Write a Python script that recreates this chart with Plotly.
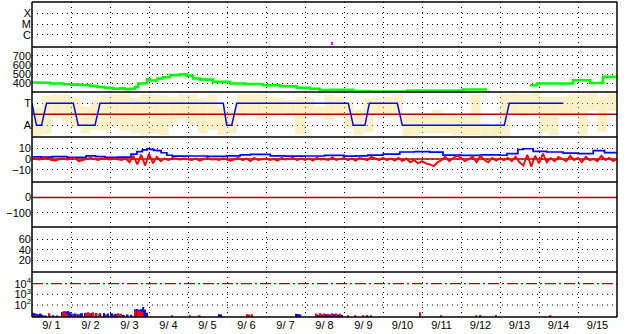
import plotly.graph_objects as go

# ---------------- data ----------------
DAY0, DAY1 = 1.0, 16.0           # 9/1 00:00 .. 9/16 00:00 (day of September)
date_label_pos = [1.5, 2.5, 3.5, 4.5, 5.5, 6.5, 7.5, 8.5, 9.5, 10.5, 11.5, 12.5, 13.5, 14.5, 15.5]
date_labels = ["9/ 1", "9/ 2", "9/ 3", "9/ 4", "9/ 5", "9/ 6", "9/ 7", "9/ 8",
               "9/ 9", "9/10", "9/11", "9/12", "9/13", "9/14", "9/15"]
day_bounds = [2, 3, 4, 5, 6, 7, 8, 9, 10, 11, 12, 13, 14, 15]

# panel 1: X-ray class (C=1, M=2, X=3)
xray_day = [8.69]
xray_lo = [0.05]
xray_hi = [0.35]

# panel 2: solar wind speed (km/s)
v_day = [1.0, 1.2, 1.46, 1.8, 2.03, 2.23, 2.49, 2.67, 2.87, 3.08, 3.26, 3.38, 3.51, 3.64,
         3.72, 3.85, 3.95, 4.03, 4.21, 4.36, 4.54, 4.79, 4.97, 5.13, 5.31, 5.64, 6.08,
         6.46, 6.92, 7.36, 7.79, 8.13, 8.38, 8.64, 8.82, 9.23, 9.67, 10.36, 10.62, 10.95,
         11.79, 12.05, 12.67, 12.74, 13.77, 13.95, 14.72, 14.87, 15.23, 15.31, 15.56,
         15.64, 16.0]
v_val = [408, 405, 397, 389, 385, 381, 370, 359, 350, 341, 345, 335, 341, 360,
         397, 400, 444, 430, 452, 465, 489, 497, 481, 452, 440, 415, 397,
         392, 378, 368, 352, 340, 327, 330, 330, 315, 310, 310, 322, 322,
         322, 333, 333, None, 378, 397, 397, 433, 433, 403, 403,
         470, 470]

# panel 3: IMF phi scatter range per 6-hour bin (T=+1, A=-1) and sector polarity
phi_bin_day = [1.125 + 0.25 * i for i in range(60)]
phi_lo = [-2.0, -1.8, -0.3, -0.6, -1.2, -1.7, -1.4, -1.5, -1.0, -1.5,
          -1.7, -1.9, -1.7, -1.9, -0.8, -0.5, -0.8, -1.7, -1.4, -1.9,
          -1.7, -0.2, 0.0, -0.5, -0.2, 0.1, -0.2, -1.8, -0.2, -0.2,
          -0.5, -0.2, -1.3, -1.9, -1.6, 0.1, -0.2, -0.2, -2.0, -1.9,
          -1.7, -1.7, -1.7, -1.9, -1.9, -1.9, -2.0, -2.0, -2.0, 0.1,
          -0.2, 0.1, -1.6, -1.9, -0.2, -0.2, -1.9, 0.3, -1.6, 0.3]
phi_hi = [0.6, 1.7, 1.8, 1.8, 1.5, 0.7, 1.3, 1.8, 1.8, 1.8,
          1.5, 1.8, 1.8, 1.7, 1.6, 1.8, 1.8, 1.5, 1.8, 0.7,
          0.4, 1.8, 1.8, 1.8, 1.6, 1.5, 1.3, 1.6, 1.5, 0.7,
          1.8, 1.6, 1.0, 0.4, 1.5, 1.5, 1.6, 1.8, -0.2, 0.1,
          0.1, 0.4, 0.1, 0.1, -0.2, 1.8, -0.8, -1.0, 1.8, 1.9,
          1.8, 1.9, 1.6, 1.6, 1.6, 1.8, 1.8, 1.9, 1.6, 1.9]
sector_day = [1.0, 1.115, 1.244, 1.372, 2.059, 2.187, 2.615, 2.744, 5.905, 5.992, 6.121,
              6.249, 9.110, 9.238, 9.538, 9.649, 10.367, 10.495, 13.110, 13.238, 14.623]
sector_val = [1, -1, -1, 1, 1, -1, -1, 1, 1, -1, -1,
              1, 1, -1, -1, 1, 1, -1, -1, 1, 1]

# panel 4: IMF Bt (blue) and Bz (red), nT
bt_day = [1.0, 1.23, 1.52, 1.90, 2.39, 2.63, 2.87, 3.2, 3.54, 3.69, 3.83, 3.95, 4.02, 4.12,
          4.22, 4.31, 4.46, 4.60, 5.0, 5.5, 6.0, 6.34, 6.6, 7.11, 7.5, 8.0, 8.5, 9.0, 9.3,
          9.61, 10.0, 10.43, 10.8, 11.2, 11.54, 12.0, 12.5, 13.0, 13.18, 13.46, 13.6, 13.85,
          14.2, 14.62, 15.0, 15.39, 15.68, 16.0]
bt_val = [2.0, 1.8, 2.2, 1.5, 3.0, 2.2, 1.5, 1.8, 4.5, 6.8, 8.4, 9.5, 9.0, 8.0,
          7.7, 5.8, 3.5, 2.6, 2.8, 2.5, 3.0, 3.8, 4.3, 3.0, 2.6, 2.8, 3.3, 2.6, 3.0,
          3.6, 4.5, 6.5, 6.8, 6.3, 3.6, 3.4, 3.8, 3.5, 5.0, 8.8, 9.5, 7.0,
          6.5, 5.4, 5.0, 7.7, 6.0, 6.2]
bz_start, bz_step = 1.0, 0.1
bz_val = [0.5, 0, -0.5, 1, 0.5, -1, -1.5, 0, 0.5, -0.5,
          0, 1, -2, -1, 0.5, 1, 0, -1, 0.5, 0,
          -0.5, 0.5, 0, -1, 0.5, -3, 3, -5, 4, -6,
          5, -4, 2, -2, 0.5, -1, 1, 0, -0.5, 0.5,
          0, -1, 0.5, -1.5, 0, 1, -0.5, 0, -1, 0.5,
          -0.5, -1.5, 0, 1, -1, 0.5, -2, 1, -1, 0,
          0.5, -1, 0, -1.5, 1, -0.5, 0, 1, -1, 0.5,
          -1, 0.5, -1.5, 1, -0.5, 0, -1, 1.5, -1, 0,
          1, -1, 0.5, -1.5, 1, 0, -1, 2, 0.5, -1,
          1, -1, 0.5, -1.5, 1, -2, 0.5, -3, -1, -4,
          -2, -4, -5, -6.5, -3, -1, 2, -2, 1, 3,
          1, -2, 0, 2, -3, 3, -1, -3, 1, -1.5,
          0.5, -1, 1, -2, 2, -3, -6, 4, -7, 3,
          -4, 5, -3, 1, -2, 2, 0, -2, 3, -1,
          1, -3, 2, -1, 0, -2, 3, -1, 1, -2,
          0]
bz_day = [bz_start + bz_step * i for i in range(len(bz_val))]

# panel 7: particle flux (blue, red)
p_blue_day = [1.02, 1.07, 1.12, 1.17, 1.22, 1.27, 1.35, 1.45, 1.55, 1.65, 1.78, 1.83, 1.88,
              1.93, 1.98, 2.05, 2.12, 2.2, 2.28, 2.36, 2.45, 2.55, 2.65, 2.75, 2.85, 2.95,
              3.05, 3.15, 3.25, 3.35, 3.45, 3.55, 3.65, 3.7, 3.75, 3.8, 3.85, 3.9, 3.95,
              5.8, 5.85, 7.78, 7.83, 7.88, 8.35, 8.45, 8.55, 8.65, 8.75, 8.85, 8.95, 9.6,
              12.5, 12.9]
p_blue_val = [18, 16, 14, 12, 15, 11, 9.5, 9.5, 10, 9.5, 22, 25, 24,
              26, 20, 14, 15, 13, 16, 17, 16, 18, 17, 16, 17, 15,
              16, 14, 12, 11, 12, 11, 38, 42, 35, 40, 63, 36, 18,
              13, 12, 14, 13, 12, 11, 12, 13, 12, 13, 12, 11, 10,
              10, 10]
p_red_day = [1.1, 1.45, 1.8, 1.85, 1.9, 2.05, 2.2, 2.38, 2.45, 2.5, 2.58, 2.65, 2.72, 2.9,
             3.1, 3.22, 3.28, 3.66, 3.72, 3.78, 3.84, 4.6, 5.05, 5.3, 6.52, 6.58, 6.64,
             8.3, 8.4, 8.5, 8.6, 8.7, 8.8, 8.9, 9.1, 9.3, 9.5, 9.7, 10.95, 11.5, 12.4, 14.3]
p_red_val = [11, 16, 20, 19, 13, 12, 11, 18, 20, 17, 19, 15, 13, 12,
             12, 16, 14, 28, 30, 25, 22, 10, 10, 10, 13, 12, 13,
             15, 16, 15, 14, 16, 15, 14, 10, 10, 10, 10, 20, 10, 10, 10]
flux_threshold = 10000

# ---------------- figure ----------------
FONT = "Liberation Sans, Arial, sans-serif"
DOT = "1px,4px"
DARKRED = "#b00000"
YELLOW = "#f7e07a"
NP = 7

fig = go.Figure()

# panel 1
fig.add_trace(go.Bar(x=xray_day, y=[h - l for h, l in zip(xray_hi, xray_lo)], base=xray_lo,
                     width=0.04, marker=dict(color="#ff00ff", line_width=0), yaxis="y"))
# panel 2
fig.add_trace(go.Scatter(x=v_day, y=v_val, mode="lines", line=dict(color="#00ff00", width=2.6, shape="hv"),
                         yaxis="y2", connectgaps=False))
# panel 3
fig.add_trace(go.Bar(x=phi_bin_day, y=[h - l for h, l in zip(phi_hi, phi_lo)], base=phi_lo, width=0.25,
                     marker=dict(color=YELLOW, line_width=0), opacity=0.42, yaxis="y3"))
fig.add_trace(go.Scatter(x=[DAY0, DAY1], y=[0, 0], mode="lines", line=dict(color=DARKRED, width=1.5), yaxis="y3"))
fig.add_trace(go.Scatter(x=sector_day, y=sector_val, mode="lines", line=dict(color="#0000ff", width=1.5), yaxis="y3"))
# panel 4
fig.add_trace(go.Scatter(x=[DAY0, DAY1], y=[0, 0], mode="lines", line=dict(color=DARKRED, width=1.5), yaxis="y4"))
fig.add_trace(go.Scatter(x=bt_day, y=bt_val, mode="lines", line=dict(color="#0000ff", width=1.7, shape="hv"), yaxis="y4"))
fig.add_trace(go.Scatter(x=bz_day, y=bz_val, mode="lines", line=dict(color="#ff0000", width=1.9), yaxis="y4"))
# panel 5
fig.add_trace(go.Scatter(x=[DAY0, DAY1], y=[0, 0], mode="lines", line=dict(color=DARKRED, width=1.5), yaxis="y5"))
# panel 6: no data
fig.add_trace(go.Scatter(x=[None], y=[None], mode="lines", yaxis="y6"))
# panel 7
fig.add_trace(go.Bar(x=p_blue_day, y=p_blue_val, base=1, width=0.05, marker=dict(color="#0000ff", line_width=0), yaxis="y7"))
fig.add_trace(go.Bar(x=p_red_day, y=p_red_val, base=1, width=0.04, marker=dict(color="#ff0000", line_width=0), yaxis="y7"))
fig.add_trace(go.Scatter(x=[DAY0, DAY1], y=[flux_threshold, flux_threshold], mode="lines",
                         line=dict(color=DARKRED, width=1.3, dash="11px,3px,2px,3px"), yaxis="y7"))

ycfg = [
    dict(range=[-0.13, 4.07], tickvals=[1, 2, 3], ticktext=["C", "M", "X"]),
    dict(range=[305, 795], tickvals=[400, 500, 600, 700]),
    dict(range=[-2.06, 2.03], tickvals=[-1, 1], ticktext=["A", "T"]),
    dict(range=[-21.3, 20.4], tickvals=[-10, 0, 10]),
    dict(range=[-192, 100], tickvals=[-100, 0]),
    dict(range=[-2.5, 83.5], tickvals=[20, 40, 60]),
    dict(type="log", range=[0.88, 5.09], tickvals=[100, 1000, 10000],
         ticktext=["10<sup>2</sup>", "10<sup>3</sup>", "10<sup>4</sup>"], showgrid=False),
]
layout = dict(
    width=628, height=334, margin=dict(l=32, r=11, t=2, b=17),
    paper_bgcolor="white", plot_bgcolor="white", showlegend=False, barmode="overlay",
    font=dict(family=FONT, size=12, color="black"),
    xaxis=dict(range=[DAY0, DAY1], tickmode="array", tickvals=date_label_pos, ticktext=date_labels,
               showgrid=False, zeroline=False, showline=False, ticks="", anchor="y7",
               tickfont=dict(size=11), automargin=False,
               minor=dict(tickmode="array", tickvals=day_bounds, showgrid=True, gridcolor="black",
                          gridwidth=1, griddash=DOT, ticks="")),
)
for i, c in enumerate(ycfg):
    name = "yaxis" if i == 0 else f"yaxis{i + 1}"
    base = dict(domain=[(NP - 1 - i) / NP, (NP - i) / NP], anchor="x", showgrid=True, gridcolor="black",
                gridwidth=1, griddash=DOT, zeroline=False, showline=False, ticks="", fixedrange=True,
                automargin=False, tickmode="array", tickfont=dict(size=11))
    base.update(c)
    layout[name] = base
fig.update_layout(**layout)

shapes = []
for k in range(NP + 1):
    shapes.append(dict(type="line", xref="paper", yref="paper", x0=0, x1=1, y0=k / NP, y1=k / NP,
                       line=dict(color="black", width=1.5), layer="above"))
for xv in (0, 1):
    shapes.append(dict(type="line", xref="paper", yref="paper", x0=xv, x1=xv, y0=0, y1=1,
                       line=dict(color="black", width=1.5), layer="above"))
for gv in (100, 1000):
    shapes.append(dict(type="line", xref="x domain", yref="y7", x0=0, x1=1, y0=gv, y1=gv,
                       line=dict(color="black", width=1, dash=DOT), layer="below"))
fig.update_layout(shapes=shapes)

fig.write_html("out.html")
